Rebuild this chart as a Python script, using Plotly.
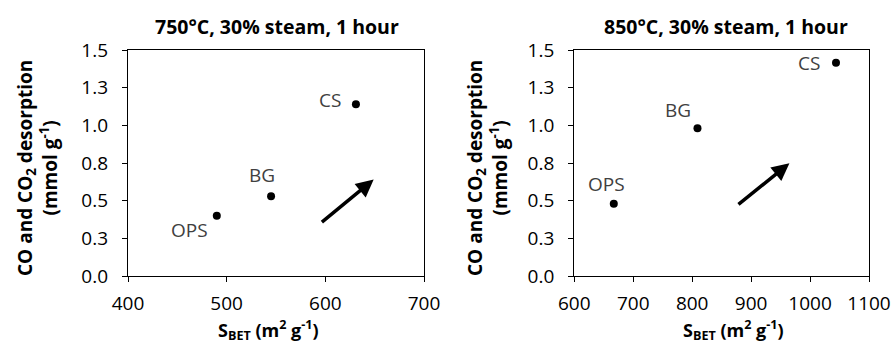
import plotly.graph_objects as go

# ---- data ----
samples = ["OPS", "BG", "CS"]
sbet_750 = [490, 545, 631]
desorp_750 = [0.40, 0.53, 1.14]
sbet_850 = [667, 809, 1044]
desorp_850 = [0.48, 0.98, 1.415]

titles = ["750°C, 30% steam, 1 hour", "850°C, 30% steam, 1 hour"]
ytick_vals = [0, 0.25, 0.5, 0.75, 1.0, 1.25, 1.5]
ytick_text = ["0.0", "0.3", "0.5", "0.8", "1.0", "1.3", "1.5"]
x1_ticks = [400, 500, 600, 700]
x2_ticks = [600, 700, 800, 900, 1000, 1100]

# arrow (data coords): start, end
arrow_750 = [(595, 0.35), (649, 0.64)]
arrow_850 = [(876, 0.467), (965, 0.748)]

# label offsets (px) for each sample in each panel
lab_750 = [(-27, 14), (-9, -21), (-26, -4)]
lab_850 = [(-7, -20), (-19, -18), (-27, 0)]

FONT = "Open Sans"
TXT = "#404040"

fig = go.Figure()
fig.add_trace(go.Scatter(x=sbet_750, y=desorp_750, mode="markers",
                         marker=dict(color="black", size=8), xaxis="x", yaxis="y",
                         showlegend=False))
fig.add_trace(go.Scatter(x=sbet_850, y=desorp_850, mode="markers",
                         marker=dict(color="black", size=8), xaxis="x2", yaxis="y2",
                         showlegend=False))

ax_common = dict(showline=True, linecolor="black", linewidth=1.4, mirror=True,
                 ticks="outside", ticklen=5, tickcolor="black", tickwidth=1.4,
                 showgrid=False, zeroline=False, automargin=False,
                 tickfont=dict(family=FONT, size=19, color="black"))

fig.update_layout(
    template="none",
    width=895, height=344, margin=dict(l=0, r=0, t=0, b=0),
    paper_bgcolor="white", plot_bgcolor="white",
    xaxis=dict(domain=[128/895, 424/895], range=[400, 700], tickvals=x1_ticks,
               anchor="y", ticklabelstandoff=5, **ax_common),
    yaxis=dict(domain=[1-276/344, 1-50/344], range=[0, 1.5], tickvals=ytick_vals,
               ticktext=ytick_text, anchor="x", ticklabelstandoff=10, **ax_common),
    xaxis2=dict(domain=[574.3/895, 869/895], range=[600, 1100], tickvals=x2_ticks,
                anchor="y2", ticklabelstandoff=5, **ax_common),
    yaxis2=dict(domain=[1-276/344, 1-50/344], range=[0, 1.5], tickvals=ytick_vals,
                ticktext=ytick_text, anchor="x2", ticklabelstandoff=10, **ax_common),
)

anns = []
# titles
for cx, t in [(277, titles[0]), (726, titles[1])]:
    anns.append(dict(x=cx/895, y=1-26/344, xref="paper", yref="paper", text=f"<b>{t}</b>",
                     showarrow=False, font=dict(family=FONT, size=19.5, color="black"),
                     xanchor="center", yanchor="middle"))
# y titles
for cx in [37, 487]:
    anns.append(dict(x=cx/895, y=1-168/344, xref="paper", yref="paper",
                     text="<b>CO and CO<sub>2</sub> desorption<br>(mmol g<sup>-1</sup>)</b>",
                     textangle=-90, showarrow=False,
                     font=dict(family=FONT, size=19, color="black"),
                     xanchor="center", yanchor="middle"))
# x titles
for cx in [268, 733]:
    anns.append(dict(x=cx/895, y=1-330/344, xref="paper", yref="paper",
                     text="<b>S<sub>BET</sub> (m<sup>2</sup> g<sup>-1</sup>)</b>",
                     showarrow=False, font=dict(family=FONT, size=18, color="black"),
                     xanchor="center", yanchor="middle"))
# point labels
for xs, ys, offs, xr, yr in [(sbet_750, desorp_750, lab_750, "x", "y"),
                             (sbet_850, desorp_850, lab_850, "x2", "y2")]:
    for name, xv, yv, (dx, dy) in zip(samples, xs, ys, offs):
        anns.append(dict(x=xv, y=yv, xref=xr, yref=yr, text=name, showarrow=False,
                         xshift=dx, yshift=-dy, font=dict(family=FONT, size=19, color=TXT),
                         xanchor="center", yanchor="middle"))
# arrows
for (s, e), xr, yr in [(arrow_750, "x", "y"), (arrow_850, "x2", "y2")]:
    anns.append(dict(x=e[0], y=e[1], ax=s[0], ay=s[1], xref=xr, yref=yr,
                     axref=xr, ayref=yr, text="", showarrow=True, arrowhead=2,
                     arrowsize=1, arrowwidth=3.5, arrowcolor="black"))

fig.update_layout(annotations=anns)
fig.write_html("out.html")
